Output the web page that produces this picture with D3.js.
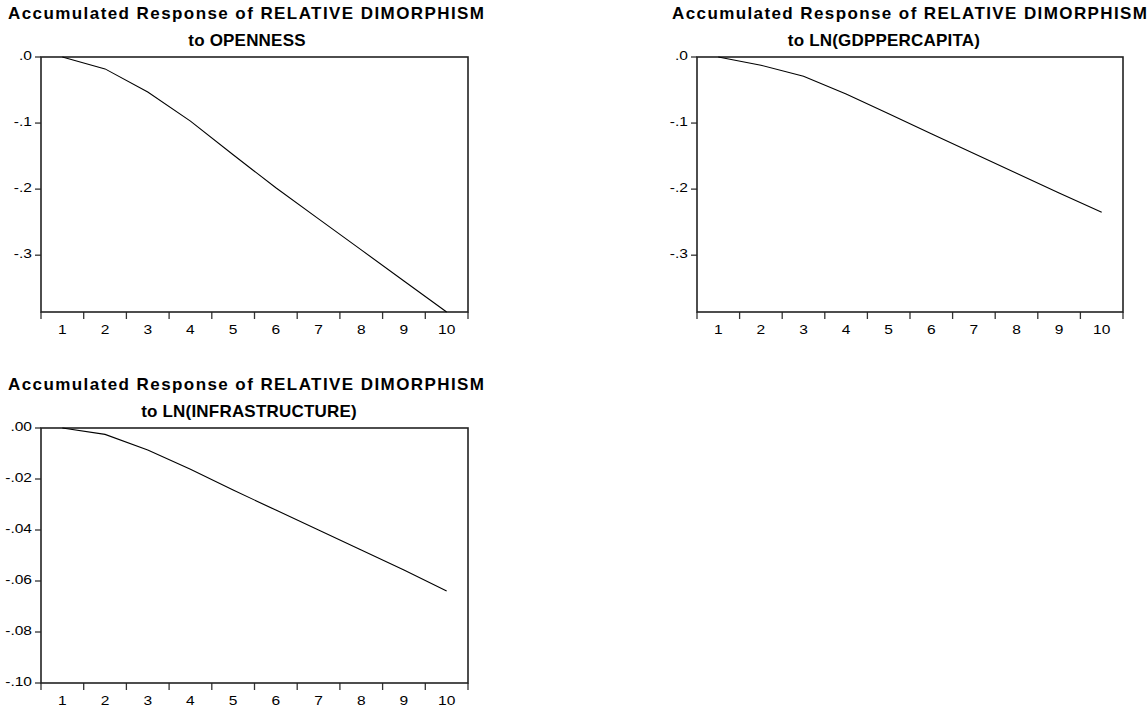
<!DOCTYPE html>
<html>
<head>
<meta charset="utf-8">
<script src="https://cdn.jsdelivr.net/npm/d3@7"></script>
<style>
  html, body { margin: 0; padding: 0; background: #fff; }
  svg { display: block; font-family: "Liberation Sans", Arial, sans-serif; }
</style>
</head>
<body>
<svg id="chart" width="1147" height="710"></svg>
<script>
// Forecast horizon (periods)
const periods = [1, 2, 3, 4, 5, 6, 7, 8, 9, 10];

// Accumulated responses of RELATIVE DIMORPHISM
const respOpenness = [0.000, -0.018, -0.053, -0.097, -0.148, -0.198, -0.245, -0.292, -0.339, -0.386];
const respGdp      = [0.000, -0.0125, -0.029, -0.056, -0.086, -0.116, -0.146, -0.176, -0.206, -0.235];
const respInfra    = [0.0000, -0.0025, -0.0086, -0.0162, -0.0243, -0.0322, -0.0400, -0.0478, -0.0557, -0.0639];

// Vertical axis ticks
const ticksTop       = [0, -0.1, -0.2, -0.3];
const tickLabelsTop  = [".0", "-.1", "-.2", "-.3"];
const ticksInfra      = [0, -0.02, -0.04, -0.06, -0.08, -0.10];
const tickLabelsInfra = [".00", "-.02", "-.04", "-.06", "-.08", "-.10"];
const infraFloor = -0.10;

// Panel titles
const titleLine1 = "Accumulated Response of RELATIVE DIMORPHISM";
const shockNames = ["to OPENNESS", "to LN(GDPPERCAPITA)", "to LN(INFRASTRUCTURE)"];

const topDomain = [d3.min(respOpenness.concat(respGdp)), 0];

const panels = [
  { box: [41, 468, 57, 312], values: respOpenness, domain: topDomain,
    ticks: ticksTop, labels: tickLabelsTop, sub: shockNames[0],
    t1: { x: 8, w: 476, y: 19 }, t2c: 247, t2y: 46 },
  { box: [697, 1123, 57, 312], values: respGdp, domain: topDomain,
    ticks: ticksTop, labels: tickLabelsTop, sub: shockNames[1],
    t1: { x: 672, w: 475, y: 19 }, t2c: 884, t2y: 46 },
  { box: [41, 468, 428, 683], values: respInfra, domain: [infraFloor, 0],
    ticks: ticksInfra, labels: tickLabelsInfra, sub: shockNames[2],
    t1: { x: 8, w: 476, y: 390 }, t2c: 249, t2y: 417 }
];

const svg = d3.select("#chart");
svg.append("rect").attr("width", 1147).attr("height", 710).attr("fill", "#fff");

// Axis text in this style is drawn a little wider than the plain face
function widen(sel, factor) {
  sel.each(function () {
    const w = this.getComputedTextLength();
    d3.select(this).attr("textLength", w * factor).attr("lengthAdjust", "spacingAndGlyphs");
  });
}

panels.forEach(p => {
  const [x0, x1, y0, y1] = p.box;
  const g = svg.append("g");

  const x = d3.scaleBand().domain(periods).range([x0, x1]);
  const y = d3.scaleLinear().domain(p.domain).range([y1, y0]);

  // Titles
  g.append("text")
    .attr("x", p.t1.x).attr("y", p.t1.y)
    .attr("font-size", 17).attr("font-weight", "bold").attr("fill", "#000")
    .attr("textLength", p.t1.w).attr("lengthAdjust", "spacing")
    .text(titleLine1);
  g.append("text")
    .attr("x", p.t2c).attr("y", p.t2y)
    .attr("text-anchor", "middle")
    .attr("font-size", 17).attr("font-weight", "bold").attr("fill", "#000")
    .attr("letter-spacing", 0.2)
    .text(p.sub);

  // Horizontal axis: ticks at period boundaries, labels centred in each period
  const xTicks = periods.map(d => x(d)).concat([x1]);
  g.selectAll(".xt").data(xTicks).join("line")
    .attr("x1", d => d).attr("x2", d => d)
    .attr("y1", y1).attr("y2", y1 + 7)
    .attr("stroke", "#333").attr("stroke-width", 1.3);
  const xl = g.selectAll(".xl").data(periods).join("text")
    .attr("x", d => x(d) + x.bandwidth() / 2)
    .attr("y", y1 + 22)
    .attr("text-anchor", "middle")
    .attr("font-size", 13.5).attr("fill", "#000")
    .text(d => d);
  widen(xl, 1.15);

  // Vertical axis
  g.selectAll(".yt").data(p.ticks).join("line")
    .attr("x1", x0 - 6).attr("x2", x0)
    .attr("y1", d => y(d)).attr("y2", d => y(d))
    .attr("stroke", "#333").attr("stroke-width", 1.3);
  const yl = g.selectAll(".yl").data(p.ticks).join("text")
    .attr("x", x0 - 9)
    .attr("y", d => y(d) + 3)
    .attr("text-anchor", "end")
    .attr("font-size", 13.5).attr("fill", "#000")
    .text((d, i) => p.labels[i]);
  widen(yl, 1.15);

  // Frame
  g.append("rect")
    .attr("x", x0).attr("y", y0)
    .attr("width", x1 - x0).attr("height", y1 - y0)
    .attr("fill", "none").attr("stroke", "#222").attr("stroke-width", 1.6);

  // Response line
  const line = d3.line()
    .x((d, i) => x(periods[i]) + x.bandwidth() / 2)
    .y(d => y(d));
  g.append("path")
    .datum(p.values)
    .attr("d", line)
    .attr("fill", "none").attr("stroke", "#000").attr("stroke-width", 1.1);
});
</script>
</body>
</html>
